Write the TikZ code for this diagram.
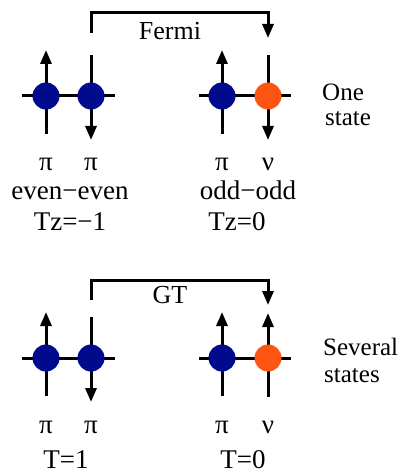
\documentclass[tikz,border=0pt]{standalone}
\usepackage{fontspec}
\setmainfont{Liberation Serif}
\usepackage{tikz}
\usetikzlibrary{arrows.meta}
\definecolor{protblue}{HTML}{000A8C}
\definecolor{neutorange}{HTML}{FF5512}
\tikzset{prot/.style={circle,fill=protblue,minimum size=27pt,inner sep=0pt},
  neut/.style={circle,fill=neutorange,minimum size=27pt,inner sep=0pt},
  bar/.style={line width=3pt},
  spin/.style={bar,-{Triangle[length=14pt,width=11pt]}},
  lbl/.style={anchor=base,inner sep=0pt,font=\fontsize{27}{27}\selectfont},
  side/.style={lbl,anchor=base west,font=\fontsize{25}{25}\selectfont}}

\begin{document}
\begin{tikzpicture}[x=1pt,y=-1pt]
\useasboundingbox (0,0) rectangle (407,473);
\foreach \n/\x in {a/46,b/91,c/222,d/268}{\coordinate (\n1) at (\x,96); \coordinate (\n2) at (\x,358);}
% transitions
\coordinate (f0) at (91,33); \coordinate (f1) at (268,38);
\draw[spin] (f0) -- ++(0,-20) -| (f1);
\node[lbl,font=\fontsize{26}{26}\selectfont] (fermi) at (170,40) {Fermi};
\coordinate (g0) at (91,300); \coordinate (g1) at (268,305);
\draw[spin] (g0) -- ++(0,-20) -| (g1);
\node[lbl,font=\fontsize{26}{26}\selectfont] (gt) at (170,303) {GT};
% pairs
\foreach \r in {1,2}{
  \draw[bar] ([xshift=-24pt]a\r) -- ([xshift=24pt]b\r);
  \draw[bar] ([xshift=-23pt]c\r) -- ([xshift=23pt]d\r);
  \draw[spin] (a\r) ++(0,38) -- ++(0,-84);
  \draw[spin] (c\r) ++(0,38) -- ++(0,-84);
  \draw[spin] (b\r) ++(0,-41) -- ++(0,85);}
\draw[spin] (d1) ++(0,-41) -- ++(0,85);
\draw[spin] (d2) ++(0,39) -- ++(0,-84);
\foreach \r in {1,2}{
  \node[prot] (pa\r) at (a\r) {}; \node[prot] (pb\r) at (b\r) {};
  \node[prot] (pc\r) at (c\r) {}; \node[neut] (nd\r) at (d\r) {};}
% labels
\foreach \n/\y in {1/170,2/433}{
  \node[lbl] at (46,\y) {π}; \node[lbl] at (91,\y) {π};
  \node[lbl] at (222,\y) {π}; \node[lbl] at (268,\y) {ν};}
\node[lbl] (ee) at (70,199) {even−even};
\node[lbl] (oo) at (248,199) {odd−odd};
\node[lbl] (tzl) at (70,230) {Tz=−1};
\node[lbl] (tzr) at (237,230) {Tz=0};
\node[lbl] (tl) at (66,468) {T=1};
\node[lbl] (tr) at (243,468) {T=0};
\node[side] (one) at (322,101) {One};
\node[side] (st) at (325,126) {state};
\node[side] (sev) at (323,355) {Several};
\node[side] (sts) at (324,382) {states};
\end{tikzpicture}
\end{document}
